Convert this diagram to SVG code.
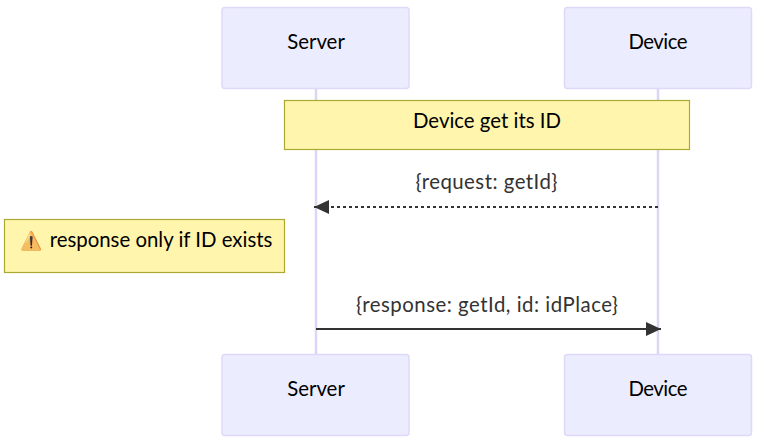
<svg xmlns="http://www.w3.org/2000/svg" width="757" height="442" viewBox="0 0 757 442">
<style>
text{font-family:Lato,"DejaVu Sans",sans-serif;font-size:20.4px;text-anchor:middle;fill:#000}
.a{fill:#ECECFF;stroke:#E0D8F8;stroke-width:1.5}
.n{fill:#FFF5AD;stroke:#AAAA33;stroke-width:1.2}
.l{stroke:#DDD5F6;stroke-width:2.5;fill:none}
text.m{fill:#333}
.c{stroke:#333;stroke-width:2;fill:none}
</style>
<defs>
<marker id="h" markerUnits="userSpaceOnUse" markerWidth="16" markerHeight="14" refX="15" refY="7" orient="auto"><path d="M0 0L15 7L0 14z" fill="#333"/></marker>
</defs>
<g id="lifelines">
<line class="l" x1="316" y1="88" x2="316" y2="355"/>
<line class="l" x1="658" y1="88" x2="658" y2="355"/>
</g>
<g id="server-top"><rect class="a" x="222" y="7.500" width="187" height="81" rx="3"/><text x="316" y="48.500">Server</text></g>
<g id="device-top"><rect class="a" x="564.500" y="7.500" width="187" height="81" rx="3"/><text x="658" y="48.500" textLength="59" lengthAdjust="spacing">Device</text></g>
<g id="note-id"><rect class="n" x="284.500" y="100.500" width="405" height="49"/><text x="487" y="127.500">Device get its ID</text></g>
<g id="note-warning"><rect class="n" x="4.500" y="219.500" width="280" height="53"/><text x="30.500" y="247" style="font-size:18px;filter:hue-rotate(-18deg) saturate(.8)">⚠️</text><text x="161" y="246.500">response only if ID exists</text></g>
<g id="connectors">
<line class="c" x1="658" y1="207" x2="314" y2="207" stroke-dasharray="3,3" marker-end="url(#h)"/>
<line class="c" x1="316" y1="329" x2="661" y2="329" marker-end="url(#h)"/>
</g>
<text class="m" x="486.500" y="188.500" textLength="142" lengthAdjust="spacing">{request: getId}</text>
<text class="m" x="487" y="311.500" textLength="262" lengthAdjust="spacing">{response: getId, id: idPlace}</text>
<g id="server-bottom"><rect class="a" x="222" y="354.500" width="187" height="81" rx="3"/><text x="316" y="395.500">Server</text></g>
<g id="device-bottom"><rect class="a" x="564.500" y="354.500" width="187" height="81" rx="3"/><text x="658" y="395.500" textLength="59" lengthAdjust="spacing">Device</text></g>
</svg>
